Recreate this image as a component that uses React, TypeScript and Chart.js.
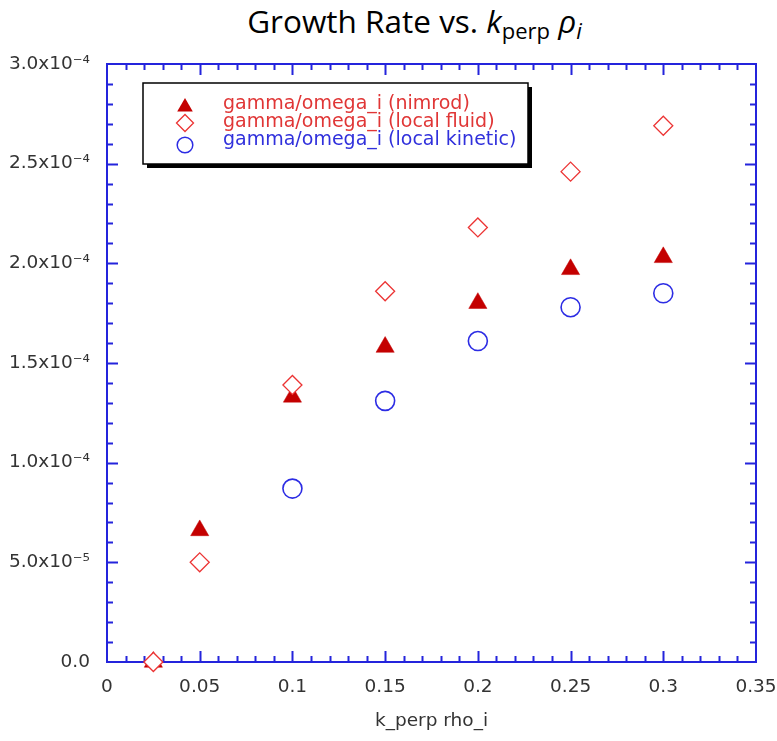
import React, { useEffect, useRef } from "react";
import { Chart, registerables } from "chart.js";

Chart.register(...registerables);

// ---- data ----
const kPerp = [0.025, 0.05, 0.1, 0.15, 0.2, 0.25, 0.3];
const nimrod = [0, 6.6e-5, 1.33e-4, 1.58e-4, 1.8e-4, 1.97e-4, 2.03e-4];
const localFluid = [0, 5.0e-5, 1.39e-4, 1.86e-4, 2.18e-4, 2.46e-4, 2.69e-4];
const localKinetic = [null, null, 8.7e-5, 1.31e-4, 1.61e-4, 1.78e-4, 1.85e-4];
const seriesLabels = [
  "gamma/omega_i (nimrod)",
  "gamma/omega_i (local fluid)",
  "gamma/omega_i (local kinetic)",
];
const xAxisTitle = "k_perp rho_i";

const X_MIN = 0, X_MAX = 0.35, X_STEP = 0.05, X_MINOR = 0.01;
const Y_MIN = 0, Y_MAX = 3e-4, Y_STEP = 5e-5, Y_MINOR = 1e-5;

// ---- styles ----
const FRAME = "#2424dc";
const NIMROD_COLOR = "#c40000";
const FLUID_COLOR = "#ec3434";
const KINETIC_COLOR = "#2c2ce4";
const LEGEND_RED = "#e03636";
const LEGEND_BLUE = "#3030dc";
const TICK_FONT = "'DejaVu Sans', 'Liberation Sans', sans-serif";

const SUP: Record<string, string> = {
  "-": "\u207B", "0": "\u2070", "1": "\u00B9", "2": "\u00B2", "3": "\u00B3",
  "4": "\u2074", "5": "\u2075", "6": "\u2076", "7": "\u2077", "8": "\u2078", "9": "\u2079",
};

function fmtY(v: number): string {
  if (Math.abs(v) < 1e-12) return "0.0";
  const e = Math.floor(Math.log10(Math.abs(v)) + 1e-9);
  const m = v / Math.pow(10, e);
  return m.toFixed(1) + "x10" + String(e).split("").map((c) => SUP[c] || c).join("");
}

function fmtX(v: number): string {
  return String(Number(v.toFixed(3)));
}

const framePlugin = {
  id: "frameTicks",
  beforeDatasetsDraw(chart: any) {
    const { ctx, chartArea } = chart;
    const { left, right, top, bottom } = chartArea;
    const xs = chart.scales.x;
    const ys = chart.scales.y;
    ctx.save();
    ctx.strokeStyle = FRAME;
    ctx.lineWidth = 2;
    ctx.beginPath();
    const nx = Math.round((X_MAX - X_MIN) / X_MINOR);
    for (let i = 1; i < nx; i++) {
      const v = X_MIN + i * X_MINOR;
      const major = i % Math.round(X_STEP / X_MINOR) === 0;
      const len = major ? 11 : 6;
      const px = Math.round(xs.getPixelForValue(v)) + 0.5;
      ctx.moveTo(px, bottom);
      ctx.lineTo(px, bottom - len);
      ctx.moveTo(px, top);
      ctx.lineTo(px, top + len);
    }
    const ny = Math.round((Y_MAX - Y_MIN) / Y_MINOR);
    for (let i = 1; i < ny; i++) {
      const v = Y_MIN + i * Y_MINOR;
      const major = i % Math.round(Y_STEP / Y_MINOR) === 0;
      const len = major ? 11 : 6;
      const py = Math.round(ys.getPixelForValue(v)) + 0.5;
      ctx.moveTo(left, py);
      ctx.lineTo(left + len, py);
      ctx.moveTo(right, py);
      ctx.lineTo(right - len, py);
    }
    ctx.stroke();
    ctx.strokeRect(left, top, right - left, bottom - top);
    ctx.restore();
  },
};

function drawTriangle(ctx: CanvasRenderingContext2D, x: number, y: number, r: number) {
  ctx.beginPath();
  ctx.moveTo(x, y - r);
  ctx.lineTo(x + r * Math.sin(Math.PI / 3), y + r / 2);
  ctx.lineTo(x - r * Math.sin(Math.PI / 3), y + r / 2);
  ctx.closePath();
}

const legendPlugin = {
  id: "boxLegend",
  afterDraw(chart: any) {
    const { ctx, chartArea } = chart;
    const bx = chartArea.left + 36;
    const by = chartArea.top + 19;
    const bw = 385;
    const bh = 81;
    ctx.save();
    ctx.fillStyle = "#000";
    ctx.fillRect(bx + 4, by + 4, bw, bh);
    ctx.fillStyle = "#fff";
    ctx.fillRect(bx, by, bw, bh);
    ctx.strokeStyle = "#000";
    ctx.lineWidth = 1.5;
    ctx.strokeRect(bx, by, bw, bh);

    const mx = bx + 42;
    ctx.fillStyle = NIMROD_COLOR;
    drawTriangle(ctx, mx, by + 24, 9);
    ctx.fill();
    ctx.strokeStyle = FLUID_COLOR;
    ctx.lineWidth = 1.3;
    ctx.beginPath();
    const dy = by + 40;
    ctx.moveTo(mx - 8.5, dy);
    ctx.lineTo(mx, dy - 8.5);
    ctx.lineTo(mx + 8.5, dy);
    ctx.lineTo(mx, dy + 8.5);
    ctx.closePath();
    ctx.stroke();
    ctx.strokeStyle = KINETIC_COLOR;
    ctx.lineWidth = 1.5;
    ctx.beginPath();
    ctx.arc(mx, by + 62, 7.8, 0, Math.PI * 2);
    ctx.stroke();

    ctx.font = `19px ${TICK_FONT}`;
    ctx.textAlign = "left";
    ctx.textBaseline = "alphabetic";
    const tx = bx + 80;
    const colors = [LEGEND_RED, LEGEND_RED, LEGEND_BLUE];
    seriesLabels.forEach((t, i) => {
      ctx.fillStyle = colors[i];
      ctx.fillText(t, tx, by + 26 + i * 18);
    });
    ctx.restore();
  },
};

export default function App() {
  const ref = useRef<HTMLCanvasElement | null>(null);

  useEffect(() => {
    if (!ref.current) return;
    const chart = new Chart(ref.current, {
      type: "scatter",
      data: {
        datasets: [
          {
            label: seriesLabels[0],
            data: kPerp.map((x, i) => ({ x, y: nimrod[i] })),
            pointStyle: "triangle",
            pointRadius: 10.5,
            pointBackgroundColor: NIMROD_COLOR,
            pointBorderColor: NIMROD_COLOR,
            pointBorderWidth: 0.5,
            clip: false,
            order: 1,
          },
          {
            label: seriesLabels[1],
            data: kPerp.map((x, i) => ({ x, y: localFluid[i] })),
            pointStyle: "rectRot",
            pointRadius: 9.5,
            pointBackgroundColor: "#ffffff",
            pointBorderColor: FLUID_COLOR,
            pointBorderWidth: 1.3,
            clip: false,
            order: 0,
          },
          {
            label: seriesLabels[2],
            data: kPerp
              .map((x, i) => ({ x, y: localKinetic[i] }))
              .filter((p) => p.y !== null) as any,
            pointStyle: "circle",
            pointRadius: 9.5,
            pointBackgroundColor: "rgba(255,255,255,0)",
            pointBorderColor: KINETIC_COLOR,
            pointBorderWidth: 1.6,
            clip: false,
            order: 2,
          },
        ],
      },
      options: {
        animation: false,
        responsive: false,
        devicePixelRatio: 1,
        layout: { padding: { top: 64, right: 21, left: 0, bottom: 0 } },
        plugins: {
          legend: { display: false },
          title: { display: false },
          tooltip: { enabled: false },
        },
        scales: {
          x: {
            type: "linear",
            position: "bottom",
            min: X_MIN,
            max: X_MAX,
            grid: { display: false, drawTicks: false },
            border: { display: false },
            ticks: {
              stepSize: X_STEP,
              padding: 14,
              color: "#333",
              font: { family: TICK_FONT, size: 18.5 },
              maxRotation: 0,
              autoSkip: false,
              callback: (v: any) => fmtX(Number(v)),
            },
            title: {
              display: true,
              text: xAxisTitle,
              color: "#333",
              font: { family: TICK_FONT, size: 18.5 },
              padding: { top: 0, bottom: 9 },
            },
            afterFit: (s: any) => {
              s.height = 79;
              s.paddingLeft = 0;
              s.paddingRight = 0;
            },
          },
          y: {
            type: "linear",
            position: "left",
            min: Y_MIN,
            max: Y_MAX,
            grid: { display: false, drawTicks: false },
            border: { display: false },
            ticks: {
              stepSize: Y_STEP,
              padding: 17,
              color: "#333",
              font: { family: TICK_FONT, size: 18.5 },
              autoSkip: false,
              callback: (v: any) => fmtY(Number(v)),
            },
            afterFit: (s: any) => {
              s.width = 107;
              s.paddingTop = 0;
              s.paddingBottom = 0;
            },
          },
        },
      },
      plugins: [framePlugin, legendPlugin],
    });
    return () => chart.destroy();
  }, []);

  return (
    <div
      style={{
        position: "absolute",
        left: 0,
        top: 0,
        width: 777,
        height: 741,
        overflow: "hidden",
        background: "#fff",
      }}
    >
      <div
        style={{
          position: "absolute",
          left: 0,
          top: 1,
          width: 829,
          textAlign: "center",
          fontFamily: "'Open Sans', 'Noto Sans', sans-serif",
          fontSize: 31.5,
          lineHeight: "40px",
          color: "#000",
          whiteSpace: "nowrap",
        }}
      >
        Growth Rate vs.{" "}
        <i>k</i>
        <span style={{ fontSize: 22, position: "relative", top: 6, lineHeight: 0 }}>perp</span>{" "}
        <i>ρ</i>
        <span style={{ fontSize: 22, position: "relative", top: 6, lineHeight: 0, fontStyle: "italic" }}>i</span>
      </div>
      <canvas ref={ref} width={777} height={741} style={{ position: "absolute", left: 0, top: 0 }} />
    </div>
  );
}
